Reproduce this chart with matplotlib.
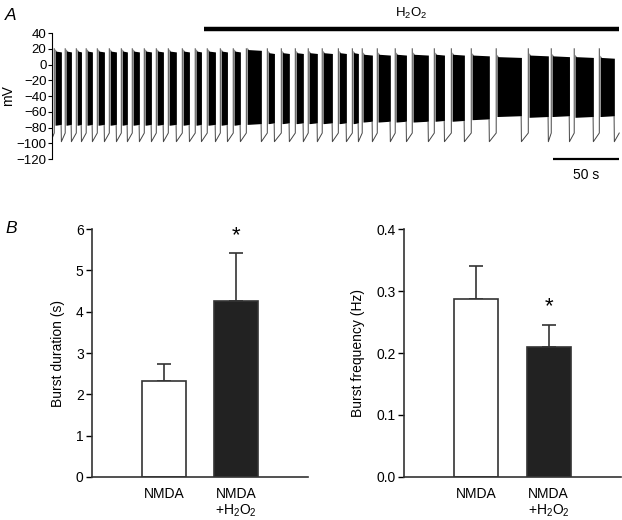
import numpy as np
import matplotlib
matplotlib.use("Agg")
import matplotlib.pyplot as plt

plt.rcParams['font.family'] = ['Liberation Sans', 'DejaVu Sans']
plt.rcParams['mathtext.fontset'] = 'custom'
plt.rcParams['mathtext.rm'] = 'Liberation Sans'
plt.rcParams['mathtext.it'] = 'Liberation Sans:italic'

# ---------------- data ----------------
# Panel A: burst onsets / offsets (s)
burst_start_s = [0.0, 8.3, 16.7, 24.2, 32.6, 41.7, 50.8, 59.1, 68.2, 77.3, 86.4, 97.0,
                 106.8, 115.9, 125.8, 135.6, 145.5, 161.4, 172.0, 182.6, 192.4, 203.0,
                 215.2, 225.8, 233.3, 244.7, 258.3, 271.2, 287.9, 300.8, 315.9, 334.8,
                 359.1, 376.5, 393.9, 412.9]
burst_end_s = [4.8, 12.4, 20.0, 28.3, 37.4, 46.5, 54.8, 63.9, 73.0, 82.1, 91.9, 101.8,
               110.9, 121.5, 130.6, 140.4, 156.3, 166.2, 177.5, 188.1, 198.7, 210.1,
               220.7, 229.8, 240.4, 254.0, 266.2, 282.8, 295.0, 310.1, 329.0, 353.3,
               373.7, 389.7, 407.8, 423.7]
burst_top_mV = [17, 17, 17, 17, 17, 17, 17, 17, 17, 17, 17, 17, 17, 17, 17, 17, 19,
                15, 15, 15, 15, 15, 15, 15, 13, 13, 13, 13, 13, 13, 12, 10, 12, 11, 10, 9]
burst_bottom_mV = [-77, -77, -77, -77, -77, -77, -77, -77, -77, -77, -77, -77, -77, -77,
                   -77, -77, -76, -75, -75, -75, -75, -75, -75, -75, -73, -73, -73, -73,
                   -72, -72, -70, -66, -67, -66, -67, -66]
spike_peak_mV = 20
interburst_min_mV = -98
interburst_end_mV = -87
trace_end_s = 428
h2o2_on_s, h2o2_off_s = 113, 427
scalebar_s = 50

# Panel B
groups = ["NMDA", "NMDA\n+H$_2$O$_2$"]
duration_mean = [2.33, 4.25]
duration_sem = [0.40, 1.18]
frequency_mean = [0.287, 0.210]
frequency_sem = [0.053, 0.035]
significant = [False, True]
bar_colors = ["white", "#222222"]

# ---------------- figure ----------------
fig = plt.figure(figsize=(6.22, 5.2), dpi=100)

axA = fig.add_axes([0.0836, 0.6942, 0.9164, 0.2423])
tt, vv = [], []
n = len(burst_start_s)
tt += [burst_start_s[0] - 1.8, burst_start_s[0] - 0.6, burst_start_s[0] - 0.6, np.nan]
vv += [-92, interburst_end_mV, spike_peak_mV, np.nan]
for i in range(n):
    s, e = burst_start_s[i], burst_end_s[i]
    top, bot = burst_top_mV[i], burst_bottom_mV[i]
    axA.fill_between([s, s + 0.8, e], [top + 3, top, top - 1], [bot, bot, bot + 1],
                     color='black', lw=0)
    nxt = burst_start_s[i + 1] if i + 1 < n else trace_end_s
    tt += [e - 0.2, e, nxt - 0.6]
    vv += [bot, interburst_min_mV, interburst_end_mV]
    if i + 1 < n:
        tt += [nxt - 0.6, np.nan]
        vv += [spike_peak_mV, np.nan]
axA.plot(tt, vv, color='#444444', lw=0.7)

axA.set_xlim(-2.3, 429.5)
axA.set_ylim(-120, 40)
axA.set_yticks(np.arange(-120, 41, 20))
axA.set_yticklabels([f"{v}".replace('-', '\u2212') for v in range(-120, 41, 20)])
axA.tick_params(axis='y', labelsize=9.5, length=3, width=0.8, pad=1)
axA.set_xticks([])
for sp in ['top', 'right', 'bottom']:
    axA.spines[sp].set_visible(False)
axA.spines['left'].set_linewidth(0.8)
axA.set_ylabel("mV", fontsize=10, labelpad=1)
axA.patch.set_alpha(0)

# H2O2 bar and label
axA.plot([h2o2_on_s, h2o2_off_s], [45, 45], color='black', lw=3.2,
         solid_capstyle='butt', clip_on=False)
axA.text((h2o2_on_s + h2o2_off_s) / 2, 65, "H$_2$O$_2$", ha='center', va='center',
         fontsize=9.5)
# scale bar
sb_end = 427
axA.plot([sb_end - scalebar_s, sb_end], [-120, -120], color='black', lw=1.6,
         solid_capstyle='butt', clip_on=False)
axA.text(sb_end - scalebar_s / 2, -131, "50 s", ha='center', va='top', fontsize=10)

fig.text(0.008, 0.985, "A", fontsize=12.5, style='italic', va='top', ha='left')
fig.text(0.008, 0.575, "B", fontsize=12.5, style='italic', va='top', ha='left')


def bar_panel(rect, means, sems, ylim, yticks, yticklabels, ylabel, star_y):
    ax = fig.add_axes(rect)
    x = np.arange(1, len(means) + 1)
    ax.bar(x, means, width=0.61, color=bar_colors, edgecolor='#333333', linewidth=1.2,
           zorder=2)
    ax.errorbar(x, means, yerr=[np.zeros(len(sems)), sems], fmt='none',
                ecolor='#333333', elinewidth=1.2, capsize=5, capthick=1.2, zorder=1)
    for xi, sig, yy in zip(x, significant, star_y):
        if sig:
            ax.text(xi, yy, "*", ha='center', va='center', fontsize=16)
    ax.set_xlim(0, 3)
    ax.set_ylim(*ylim)
    ax.set_yticks(yticks)
    ax.set_yticklabels(yticklabels)
    ax.set_xticks(x)
    ax.set_xticklabels(groups, fontsize=10, ha='center', linespacing=1.15)
    ax.tick_params(axis='x', length=0, pad=7)
    ax.tick_params(axis='y', labelsize=10, length=4, width=1.0, pad=2)
    for sp in ['top', 'right']:
        ax.spines[sp].set_visible(False)
    for sp in ['left', 'bottom']:
        ax.spines[sp].set_linewidth(1.2)
        ax.spines[sp].set_color('#333333')
    ax.set_ylabel(ylabel, fontsize=10, labelpad=8)
    return ax


bar_panel([0.1479, 0.0827, 0.3473, 0.4769], duration_mean, duration_sem, (0, 6),
          range(0, 7), [str(i) for i in range(0, 7)], "Burst duration (s)",
          [None, 5.85])
bar_panel([0.6495, 0.0827, 0.3489, 0.4769], frequency_mean, frequency_sem, (0, 0.4),
          [0, 0.1, 0.2, 0.3, 0.4], ["0.0", "0.1", "0.2", "0.3", "0.4"],
          "Burst frequency (Hz)", [None, 0.275])

fig.savefig("out.png", dpi=100)
